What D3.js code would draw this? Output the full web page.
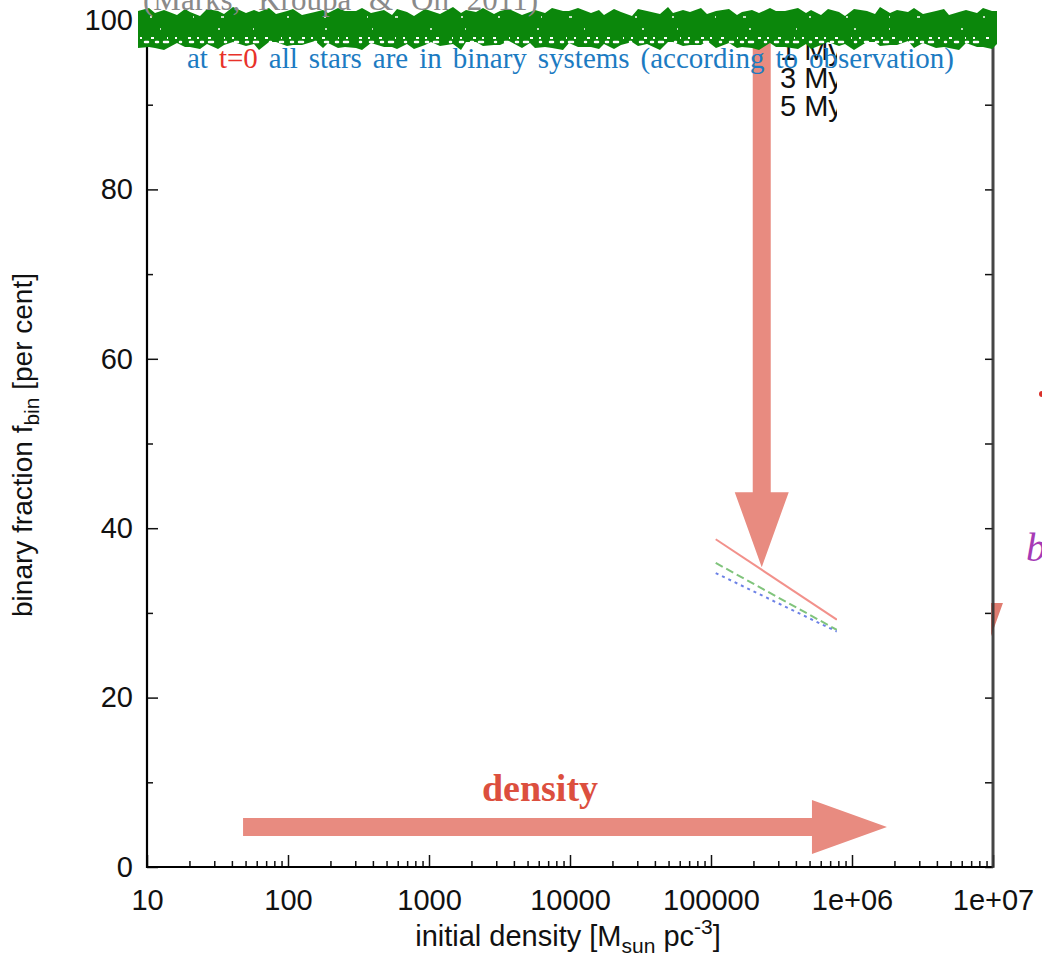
<!DOCTYPE html>
<html>
<head>
<meta charset="utf-8">
<script src="https://cdn.jsdelivr.net/npm/d3@7"></script>
<style>
body { margin: 0; background: #fff; }
svg { display: block; }
.axis text { font-family: "Liberation Sans", Arial, sans-serif; font-size: 29px; fill: #111; }
.axis line { stroke: #111; stroke-width: 1.5; }
</style>
</head>
<body>
<div id="chart"></div>
<script>
// ticks
var densityTicks = [10, 100, 1000, 10000, 100000, 1e6, 1e7];
var densityTickLabels = ["10", "100", "1000", "10000", "100000", "1e+06", "1e+07"];
var fbinTicks = [0, 20, 40, 60, 80, 100];
var fbinMinorTicks = [10, 30, 50, 70, 90];

// series (only the visible piece of each curve)
var ages = ["1 My", "3 My", "5 My"];
var density = [1.08e5, 7.8e5];
var fbin1My = [38.7, 29.2];
var fbin3My = [35.9, 28.0];
var fbin5My = [34.7, 27.8];
var lineColors = ["#f2918b", "#80c47c", "#6d82e6"];
var lineDash = [null, "8,4", "3,4"];

// annotation arrows, in data units
var arrowFrom = [[2.29e5, 98.5], [48, 4.72], [7.57e6, 40]];
var arrowTo   = [[2.29e5, 35.4], [1.77e6, 4.72], [7.57e6, 22.3]];

// ragged edges of the green scribble
var scribTop = [0, -3, 2, -1, 4, -2, 1, 5, -2, 0, 3, -4, 2, -1, 1, -3, 3, 0, -2, 4, 1, -1, 2, -3, 0];
var scribBottom = [0, 4, -2, 3, 6, -1, 2, 5, -3, 1, 4, 0, 6, -2, 3, 1, 5, -1, 2, 4, -2, 3, 1];
var scribStep = [7, 11, 6, 9, 13, 8, 5, 10];

var width = 1042, height = 964;
var margin = {top: 20, right: 49, bottom: 97, left: 147};

var x = d3.scaleLog()
          .domain([10, 1e7])
          .range([margin.left, width - margin.right]);

var y = d3.scaleLinear()
          .domain([0, 100])
          .range([height - margin.bottom, margin.top]);

var svg = d3.select("#chart")
            .append("svg")
            .attr("width", width)
            .attr("height", height);

var defs = svg.append("defs");
defs.append("clipPath").attr("id", "cut")
    .append("rect").attr("x", 0).attr("y", 0).attr("width", 837).attr("height", height);
defs.append("clipPath").attr("id", "outside")
    .append("rect").attr("x", 991).attr("y", 0).attr("width", 60).attr("height", height);

// minor x ticks
var minorX = [];
densityTicks.slice(0, -1).forEach(function(d) {
    for (var k = 2; k < 10; k++) minorX.push(d * k);
});

var bottom = height - margin.bottom;

svg.append("g")
   .attr("class", "axis")
   .attr("transform", "translate(0," + bottom + ")")
   .call(d3.axisBottom(x)
           .tickValues(densityTicks)
           .tickFormat(d => densityTickLabels[densityTicks.indexOf(d)])
           .tickSize(-12).tickSizeOuter(0).tickPadding(22))
   .call(g => g.select(".domain").remove());

svg.append("g")
   .attr("class", "axis")
   .attr("transform", "translate(0," + bottom + ")")
   .call(d3.axisBottom(x).tickValues(minorX).tickFormat("").tickSize(-6).tickSizeOuter(0))
   .call(g => g.select(".domain").remove());

svg.append("g")
   .attr("class", "axis")
   .attr("transform", "translate(" + margin.left + ",0)")
   .call(d3.axisLeft(y).tickValues(fbinTicks).tickSize(-11).tickSizeOuter(0).tickPadding(14))
   .call(g => g.select(".domain").remove());

svg.append("g")
   .attr("class", "axis")
   .attr("transform", "translate(" + margin.left + ",0)")
   .call(d3.axisLeft(y).tickValues(fbinMinorTicks).tickFormat("").tickSize(-6).tickSizeOuter(0))
   .call(g => g.select(".domain").remove());

svg.append("g")
   .attr("class", "axis")
   .attr("transform", "translate(" + (width - margin.right) + ",0)")
   .call(d3.axisRight(y).tickValues(fbinTicks.concat(fbinMinorTicks)).tickFormat("").tickSize(-8).tickSizeOuter(0))
   .call(g => g.select(".domain").remove());

// frame
svg.append("line")
   .attr("x1", x(10)).attr("x2", x(10)).attr("y1", y(100)).attr("y2", y(0) + 1)
   .style("stroke", "#000").style("stroke-width", 2.2);
svg.append("line")
   .attr("x1", x(10) - 1).attr("x2", x(1e7)).attr("y1", y(0)).attr("y2", y(0))
   .style("stroke", "#000").style("stroke-width", 2.2);

// axis titles
var xt = svg.append("text")
            .attr("x", 568).attr("y", 946)
            .attr("text-anchor", "middle")
            .style("font-family", "Liberation Sans, Arial, sans-serif")
            .style("font-size", "29px").style("fill", "#111");
xt.append("tspan").text("initial density [M");
xt.append("tspan").attr("dy", 7).style("font-size", "21px").text("sun");
xt.append("tspan").attr("dy", -7).text(" pc");
xt.append("tspan").attr("dy", -12).style("font-size", "21px").text("-3");
xt.append("tspan").attr("dy", 12).text("]");

var yt = svg.append("text")
            .attr("transform", "translate(32,445) rotate(-90)")
            .attr("text-anchor", "middle")
            .style("font-family", "Liberation Sans, Arial, sans-serif")
            .style("font-size", "28px").style("fill", "#111");
yt.append("tspan").text("binary fraction f");
yt.append("tspan").attr("dy", 7).style("font-size", "21px").text("bin");
yt.append("tspan").attr("dy", -7).text(" [per cent]");

// data lines
var series = [fbin1My, fbin3My, fbin5My];
var line = d3.line()
             .x((d, i) => x(density[i]))
             .y(d => y(d));

var plot = svg.append("g").attr("clip-path", "url(#cut)");

plot.selectAll("path.series")
    .data(series)
    .enter()
    .append("path")
    .attr("class", "series")
    .attr("d", line)
    .style("fill", "none")
    .style("stroke", (d, i) => lineColors[i])
    .style("stroke-width", 2)
    .style("stroke-dasharray", (d, i) => lineDash[i]);

plot.selectAll("text.age")
    .data(ages)
    .enter()
    .append("text")
    .attr("class", "age")
    .attr("x", 780)
    .attr("y", (d, i) => 60 + i * 28)
    .style("font-family", "Liberation Sans, Arial, sans-serif")
    .style("font-size", "29px")
    .style("fill", "#111")
    .text(d => d);

// arrows
function arrowPath(p0, p1, shaft, head, headLen) {
    var dx = p1[0] - p0[0], dy = p1[1] - p0[1];
    var L = Math.hypot(dx, dy), ux = dx / L, uy = dy / L, nx = -uy, ny = ux;
    var bx = p1[0] - ux * headLen, by = p1[1] - uy * headLen;
    var pts = [
        [p0[0] + nx * shaft / 2, p0[1] + ny * shaft / 2],
        [bx + nx * shaft / 2, by + ny * shaft / 2],
        [bx + nx * head / 2, by + ny * head / 2],
        [p1[0], p1[1]],
        [bx - nx * head / 2, by - ny * head / 2],
        [bx - nx * shaft / 2, by - ny * shaft / 2],
        [p0[0] - nx * shaft / 2, p0[1] - ny * shaft / 2]
    ];
    return "M" + pts.join("L") + "Z";
}

svg.selectAll("path.arrow")
   .data(arrowFrom)
   .enter()
   .append("path")
   .attr("class", "arrow")
   .attr("d", (d, i) => arrowPath([x(d[0]), y(d[1])], [x(arrowTo[i][0]), y(arrowTo[i][1])], 18, 54, 75))
   .attr("clip-path", (d, i) => i == 2 ? "url(#outside)" : null)
   .style("fill", (d, i) => i == 2 ? "#e07c70" : "#e88b80");

// right frame on top of the clipped arrow
svg.append("line")
   .attr("x1", x(1e7)).attr("x2", x(1e7)).attr("y1", y(100)).attr("y2", y(0) + 1)
   .style("stroke", "#333").style("stroke-width", 3)
   .style("opacity", 0.9);

svg.append("text")
   .attr("x", 540).attr("y", 801)
   .attr("text-anchor", "middle")
   .style("font-family", "Liberation Serif, Times New Roman, serif")
   .style("font-weight", "bold")
   .style("font-size", "38px")
   .style("fill", "#dc4f3e")
   .text("density");

// spread a text's words so that it fills a width
function spread(t, w) {
    var n = t.text().split(" ").length - 1;
    var len = t.node().getComputedTextLength();
    t.style("word-spacing", Math.max(0, (w - len) / n) + "px");
}

var note = svg.append("text")
              .attr("x", 187).attr("y", 68)
              .style("font-family", "Liberation Serif, Times New Roman, serif")
              .style("font-size", "29px")
              .style("fill", "#1c7bc2");
note.append("tspan").text("at ");
note.append("tspan").style("fill", "#e8322a").text("t=0");
note.append("tspan").text(" all stars are in binary systems (according to observation)");
spread(note, 767);

// green scribble over the top edge
var xs = [138];
while (xs[xs.length - 1] < 996) xs.push(xs[xs.length - 1] + scribStep[xs.length % scribStep.length]);
xs[xs.length - 1] = 997;
var band = xs.map((v, i) => [v, 11 + scribTop[i % scribTop.length]])
             .concat(xs.slice().reverse().map((v, i) => [v, 44 + scribBottom[(i * 7) % scribBottom.length]]));
var scrib = svg.append("g");
scrib.append("path")
     .attr("d", d3.line().curve(d3.curveLinearClosed)(band))
     .style("fill", "#0b870b");
scrib.append("line")
     .attr("x1", 140).attr("x2", 994).attr("y1", 38).attr("y2", 38)
     .style("stroke", "#fff").style("stroke-width", 2)
     .style("stroke-dasharray", "2 9 3 13 1 7 2 11 3 6");
scrib.append("line")
     .attr("x1", 145).attr("x2", 990).attr("y1", 42).attr("y2", 42)
     .style("stroke", "#fff").style("stroke-width", 2.5).style("stroke-linecap", "round")
     .style("stroke-dasharray", "3 8 2 6 4 12 1 9");
scrib.append("line")
     .attr("x1", 150).attr("x2", 985).attr("y1", 17).attr("y2", 17)
     .style("stroke", "#fff").style("stroke-width", 1.5)
     .style("stroke-dasharray", "2 41 1 27 3 63 2 35");
scrib.append("line")
     .attr("x1", 160).attr("x2", 985).attr("y1", 29).attr("y2", 29)
     .style("stroke", "#fff").style("stroke-width", 1.5)
     .style("stroke-dasharray", "1 57 2 33 1 71 2 45");

var cite = svg.append("text")
              .attr("x", 143).attr("y", 10)
              .style("font-family", "Liberation Serif, Times New Roman, serif")
              .style("font-size", "31px")
              .style("fill", "#8a8a8a")
              .text("(Marks, Kroupa & Oh 2011)");
spread(cite, 395);

// fragments beyond the right edge
svg.append("text")
   .attr("x", 1026).attr("y", 561)
   .style("font-family", "Liberation Serif, Times New Roman, serif")
   .style("font-style", "italic")
   .style("font-size", "40px")
   .style("fill", "#a63ab6")
   .text("b");
svg.append("circle")
   .attr("cx", 1042).attr("cy", 394).attr("r", 3)
   .style("fill", "#d9302a");
</script>
</body>
</html>
